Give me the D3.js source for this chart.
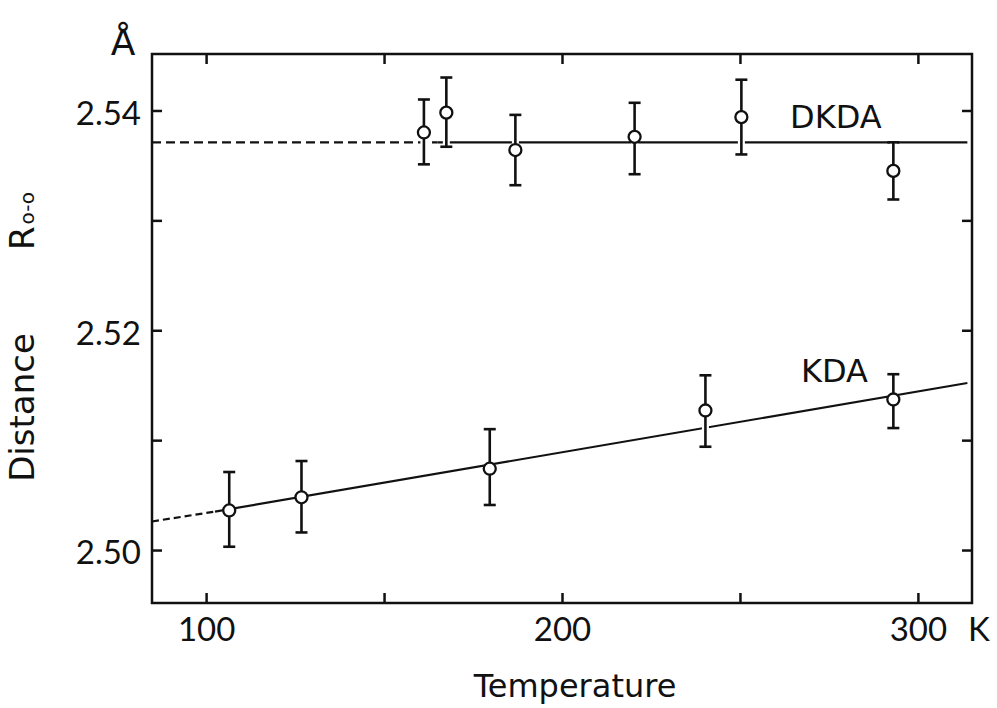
<!DOCTYPE html>
<html>
<head>
<meta charset="utf-8">
<script src="https://cdn.jsdelivr.net/npm/d3@7.9.0/dist/d3.min.js"></script>
<style>
  body { margin: 0; background: #fff; }
</style>
</head>
<body>
<svg id="chart" width="997" height="708"></svg>
<script>
// temperatures (K) and O-O distances (Å)
const dkdaT = [161.2, 167.5, 186.9, 220.4, 250.4, 293.1];
const dkdaR = [2.5380, 2.5398, 2.5364, 2.5376, 2.5394, 2.5345];
const dkdaHi = [2.5410, 2.5430, 2.5396, 2.5407, 2.5428, 2.5371];
const dkdaLo = [2.5351, 2.5367, 2.5332, 2.5342, 2.5360, 2.5319];

const kdaT = [106.5, 126.8, 179.7, 240.3, 293.1];
const kdaR = [2.5036, 2.5048, 2.5074, 2.5127, 2.5137];
const kdaHi = [2.5071, 2.5081, 2.5110, 2.5159, 2.5160];
const kdaLo = [2.5003, 2.5016, 2.5041, 2.5094, 2.5111];

// fitted lines: dashed extrapolation + solid part
const dkdaFitDashed = [[84.8, 2.5371], [165, 2.5371]];
const dkdaFitSolid = [[165, 2.5371], [313.9, 2.5371]];
const kdaFitDashed = [[84.8, 2.5026], [102.5, 2.5035]];
const kdaFitSolid = [[102.5, 2.5035], [313.9, 2.5152]];

const xTicks = [100, 150, 200, 250, 300];
const xLabels = [100, 200, 300];
const yTicks = [2.50, 2.51, 2.52, 2.53, 2.54];
const yLabels = [2.50, 2.52, 2.54];

const svg = d3.select("#chart");
const wordFont = "'DejaVu Sans'";
const numFont = "Lato";

svg.append("rect").attr("width", 997).attr("height", 708).attr("fill", "#fff");

const x = d3.scaleLinear().domain([84.8, 315.2]).range([152, 972]);
const y = d3.scaleLinear().domain([2.49518, 2.54514]).range([603, 54]);

function styleAxis(g) {
    g.select(".domain").remove();
    g.selectAll(".tick line").attr("stroke", "#111").attr("stroke-width", 2.5);
    g.selectAll("text")
      .style("font-family", numFont)
      .style("font-size", "33px")
      .attr("fill", "#111");
}

svg.append("g")
  .attr("transform", "translate(0, 603)")
  .call(d3.axisBottom(x).tickValues(xTicks).tickSize(-10).tickPadding(15)
    .tickFormat((d) => xLabels.includes(d) ? d : ""))
  .call(styleAxis);

svg.append("g")
  .attr("transform", "translate(0, 54)")
  .call(d3.axisTop(x).tickValues(xTicks).tickSize(-10).tickFormat(""))
  .call(styleAxis);

svg.append("g")
  .attr("transform", "translate(152, 0)")
  .call(d3.axisLeft(y).tickValues(yTicks).tickSize(-10).tickPadding(11)
    .tickFormat((d) => yLabels.some((v) => Math.abs(v - d) < 1e-9) ? d3.format(".2f")(d) : ""))
  .call(styleAxis)
  .selectAll("text")
  .attr("dy", "0.42em");

svg.append("g")
  .attr("transform", "translate(972, 0)")
  .call(d3.axisRight(y).tickValues(yTicks).tickSize(-10).tickFormat(""))
  .call(styleAxis);

svg.append("rect")
  .attr("x", 152)
  .attr("y", 54)
  .attr("width", 820)
  .attr("height", 549)
  .attr("fill", "none")
  .attr("stroke", "#111")
  .attr("stroke-width", 2.5);

const line = d3.line().x((d) => x(d[0])).y((d) => y(d[1]));

function drawFit(dashed, solid, dash) {
    svg.append("path")
      .datum(dashed)
      .attr("d", line)
      .attr("fill", "none")
      .attr("stroke", "#111")
      .attr("stroke-width", 2.2)
      .attr("stroke-dasharray", dash);
    svg.append("path")
      .datum(solid)
      .attr("d", line)
      .attr("fill", "none")
      .attr("stroke", "#111")
      .attr("stroke-width", 2.2);
}

drawFit(dkdaFitDashed, dkdaFitSolid, "9,5");
drawFit(kdaFitDashed, kdaFitSolid, "7,4");

function drawPoints(ts, rs, his, los) {
    const pts = ts.map((t, i) => ({ t: t, r: rs[i], hi: his[i], lo: los[i] }));
    const g = svg.append("g");

    g.selectAll(".halo")
      .data(pts)
      .join("line")
      .attr("x1", (d) => x(d.t))
      .attr("x2", (d) => x(d.t))
      .attr("y1", (d) => y(d.hi))
      .attr("y2", (d) => y(d.lo))
      .attr("stroke", "#fff")
      .attr("stroke-width", 7);

    g.selectAll(".bar")
      .data(pts)
      .join("line")
      .attr("x1", (d) => x(d.t))
      .attr("x2", (d) => x(d.t))
      .attr("y1", (d) => y(d.hi))
      .attr("y2", (d) => y(d.lo))
      .attr("stroke", "#111")
      .attr("stroke-width", 2.6);

    ["hi", "lo"].forEach((k) => {
        g.selectAll(".cap-" + k)
          .data(pts)
          .join("line")
          .attr("x1", (d) => x(d.t) - 6)
          .attr("x2", (d) => x(d.t) + 6)
          .attr("y1", (d) => y(d[k]))
          .attr("y2", (d) => y(d[k]))
          .attr("stroke", "#111")
          .attr("stroke-width", 2.6);
    });

    g.selectAll("circle")
      .data(pts)
      .join("circle")
      .attr("cx", (d) => x(d.t))
      .attr("cy", (d) => y(d.r))
      .attr("r", 6)
      .attr("fill", "#fff")
      .attr("stroke", "#111")
      .attr("stroke-width", 2.3);
}

drawPoints(dkdaT, dkdaR, dkdaHi, dkdaLo);
drawPoints(kdaT, kdaR, kdaHi, kdaLo);

// labels
svg.append("text")
  .attr("x", 790)
  .attr("y", 128)
  .style("font-family", wordFont)
  .style("font-size", "32px")
  .attr("fill", "#111")
  .text("DKDA");

svg.append("text")
  .attr("x", 801)
  .attr("y", 382)
  .style("font-family", wordFont)
  .style("font-size", "32px")
  .attr("fill", "#111")
  .text("KDA");

svg.append("text")
  .attr("x", 968)
  .attr("y", 641)
  .style("font-family", numFont)
  .style("font-size", "33px")
  .attr("fill", "#111")
  .text("K");

svg.append("text")
  .attr("x", 575)
  .attr("y", 697)
  .attr("text-anchor", "middle")
  .style("font-family", wordFont)
  .style("font-size", "32px")
  .attr("fill", "#111")
  .text("Temperature");

svg.append("text")
  .attr("transform", "translate(34, 407.5) rotate(-90)")
  .attr("text-anchor", "middle")
  .style("font-family", wordFont)
  .style("font-size", "34px")
  .attr("fill", "#111")
  .text("Distance");

const rLabel = svg.append("text")
  .attr("transform", "translate(34, 250) rotate(-90)")
  .style("font-family", wordFont)
  .style("font-size", "34px")
  .attr("fill", "#111");
rLabel.append("tspan").text("R");
rLabel.append("tspan").style("font-size", "20px").attr("dx", 2).text("o-o");

svg.append("text")
  .attr("x", 123)
  .attr("y", 55)
  .attr("text-anchor", "middle")
  .style("font-family", wordFont)
  .style("font-size", "36px")
  .attr("fill", "#111")
  .text("Å");
</script>
</body>
</html>
